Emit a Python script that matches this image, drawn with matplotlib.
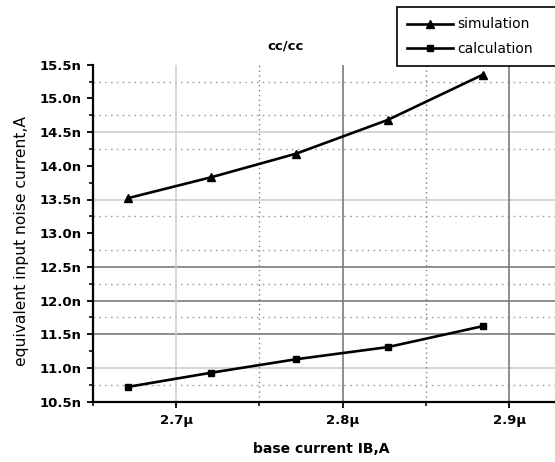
import matplotlib
matplotlib.use("Agg")
import matplotlib.pyplot as plt
from matplotlib.ticker import MultipleLocator, FuncFormatter

# base current IB in uA, noise current in nA
ib = [2.671, 2.721, 2.772, 2.827, 2.884]
sim_noise = [13.52, 13.83, 14.18, 14.68, 15.35]
calc_noise = [10.72, 10.93, 11.13, 11.31, 11.62]

series_names = ["simulation", "calculation"]

W, H = 555, 462
fig = plt.figure(figsize=(W / 100, H / 100), dpi=100)
ax = fig.add_axes([93 / W, 1 - 401.7 / H, 1 - 93 / W, (401.7 - 64.7) / H])

ax.set_xlim(2.65, 2.9275)
ax.set_ylim(10.5, 15.5)

# grid lines, drawn one by one (uneven weights on the original plot)
light = "#cfcfcf"
dark = "#7a7a7a"
dots = (0, (1.2, 3.0))
for y in [14.5, 13.5, 11.0]:
    ax.axhline(y, color=light, lw=1.2, zorder=1)
for y in [12.5, 12.0, 11.5]:
    ax.axhline(y, color=dark, lw=1.2, zorder=1)
for y in [15.25, 14.75, 14.25, 13.25, 12.75, 12.25, 11.75, 10.75]:
    ax.axhline(y, color="#a0a0a0", lw=1.0, ls=dots, zorder=1)
ax.axvline(2.7, color=light, lw=1.2, zorder=1)
for x in [2.8, 2.9]:
    ax.axvline(x, color=dark, lw=1.2, zorder=1)
for x in [2.75, 2.85]:
    ax.axvline(x, color="#808080", lw=1.0, ls=(0, (1, 2.5)), zorder=1)

ax.plot(ib, sim_noise, color="black", lw=1.9, marker="^", ms=6,
        label=series_names[0], zorder=3)
ax.plot(ib, calc_noise, color="black", lw=1.9, marker="s", ms=4.5,
        label=series_names[1], zorder=3)

for side in ["top", "right"]:
    ax.spines[side].set_visible(False)
for side in ["left", "bottom"]:
    ax.spines[side].set_linewidth(1.6)

ax.xaxis.set_major_locator(MultipleLocator(0.1))
ax.xaxis.set_minor_locator(MultipleLocator(0.05))
ax.yaxis.set_major_locator(MultipleLocator(0.5))
ax.yaxis.set_minor_locator(MultipleLocator(0.25))
ax.xaxis.set_major_formatter(FuncFormatter(lambda v, p: f"{v:.1f}\u03bc"))
ax.yaxis.set_major_formatter(FuncFormatter(lambda v, p: f"{v:.1f}n"))
ax.tick_params(which="major", direction="out", length=4.5, width=1.3,
               labelsize=9.5, pad=4)
ax.tick_params(which="minor", direction="out", length=3, width=1.1)
for lab in ax.get_xticklabels() + ax.get_yticklabels():
    lab.set_fontweight("bold")

fig.text(286 / W, 1 - 46 / H, "cc/cc", ha="center", va="center",
         fontsize=9.5, fontweight="bold")
fig.text(321 / W, 1 - 449 / H, "base current IB,A", ha="center", va="center",
         fontsize=10, fontweight="bold")
fig.text(22 / W, 1 - 241 / H, "equivalent input noise current,A", ha="center",
         va="center", rotation=90, fontsize=11.2)

leg = ax.legend(loc="upper left",
                bbox_to_anchor=(397 / W, 1 - 66 / H, (562 - 397) / W, 59 / H),
                bbox_transform=fig.transFigure, mode="expand",
                frameon=True, fancybox=False, edgecolor="black",
                framealpha=1, fontsize=10, handlelength=3.3,
                borderaxespad=0, borderpad=0.75, labelspacing=0.75,
                handletextpad=0.3)
leg.get_frame().set_linewidth(1.2)

fig.savefig("out.png", dpi=100)
